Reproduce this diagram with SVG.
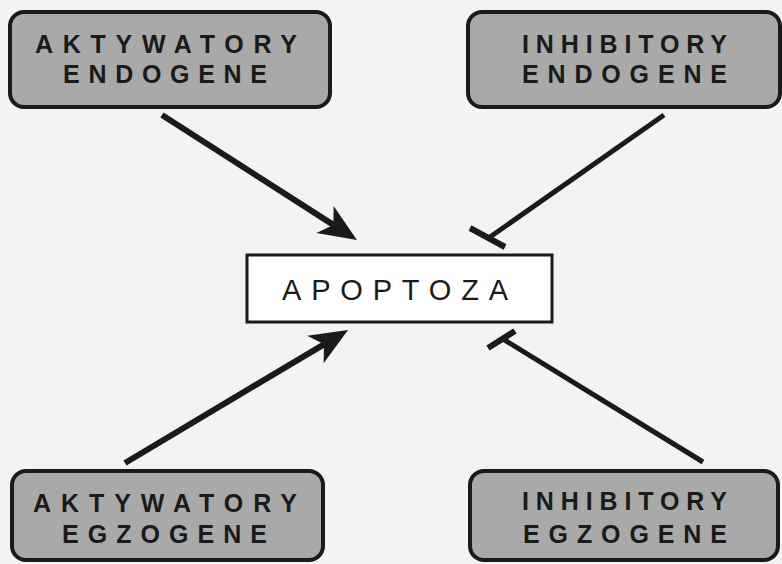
<svg xmlns="http://www.w3.org/2000/svg" width="782" height="564" viewBox="0 0 782 564">
  <defs>
    <style>
      .box { fill: #a9a9a9; stroke: #1a1a1a; stroke-width: 4; }
      .center { fill: #ffffff; stroke: #1a1a1a; stroke-width: 3; }
      .lbl { font-family: "Liberation Sans", Arial, sans-serif; font-weight: bold; font-size: 25px; fill: #1a1a1a; }
      .main { font-family: "Liberation Sans", Arial, sans-serif; font-size: 29px; fill: #1a1a1a; }
      .edge { stroke: #1a1a1a; stroke-width: 6; fill: none; }
      .inh { stroke: #1a1a1a; stroke-width: 5; fill: none; }
      .bar { stroke: #1a1a1a; stroke-width: 6; fill: none; }
    </style>
    <marker id="head" markerUnits="userSpaceOnUse" viewBox="-40 -20 42 40" markerWidth="42" markerHeight="40" refX="-28" refY="0" orient="auto">
      <path d="M0,0 L-38,-16 L-28,0 L-38,16 Z" fill="#1a1a1a"/>
    </marker>
  </defs>
  <rect width="782" height="564" fill="#f3f3f1"/>

  <g id="connectors">
    <line class="edge" x1="162" y1="115" x2="333.4" y2="224.9" marker-end="url(#head)"/>
    <line class="edge" x1="125" y1="463" x2="324" y2="344.3" marker-end="url(#head)"/>
    <line class="inh" x1="664" y1="115" x2="490" y2="237"/>
    <line class="bar" x1="470" y1="228" x2="505" y2="247"/>
    <line class="inh" x1="703" y1="462" x2="503" y2="339"/>
    <line class="bar" x1="488" y1="348" x2="515" y2="331"/>
  </g>

  <g id="akt-endo">
    <rect class="box" x="10" y="12" width="320" height="95" rx="14"/>
    <text class="lbl" x="35" y="53" textLength="262" lengthAdjust="spacing">AKTYWATORY</text>
    <text class="lbl" x="63" y="83" textLength="204" lengthAdjust="spacing">ENDOGENE</text>
  </g>

  <g id="inh-endo">
    <rect class="box" x="468" y="12" width="312" height="95" rx="14"/>
    <text class="lbl" x="522" y="53" textLength="205" lengthAdjust="spacing">INHIBITORY</text>
    <text class="lbl" x="522" y="83" textLength="205" lengthAdjust="spacing">ENDOGENE</text>
  </g>

  <g id="apoptoza">
    <rect class="center" x="247" y="255" width="305" height="67"/>
    <text class="main" x="282" y="300" textLength="226" lengthAdjust="spacing">APOPTOZA</text>
  </g>

  <g id="akt-egzo">
    <rect class="box" x="12" y="471" width="311" height="89" rx="14"/>
    <text class="lbl" x="33" y="512" textLength="264" lengthAdjust="spacing">AKTYWATORY</text>
    <text class="lbl" x="62" y="543" textLength="205" lengthAdjust="spacing">EGZOGENE</text>
  </g>

  <g id="inh-egzo">
    <rect class="box" x="470" y="471" width="308" height="89" rx="14"/>
    <text class="lbl" x="522" y="510" textLength="205" lengthAdjust="spacing">INHIBITORY</text>
    <text class="lbl" x="523" y="543" textLength="204" lengthAdjust="spacing">EGZOGENE</text>
  </g>
</svg>
